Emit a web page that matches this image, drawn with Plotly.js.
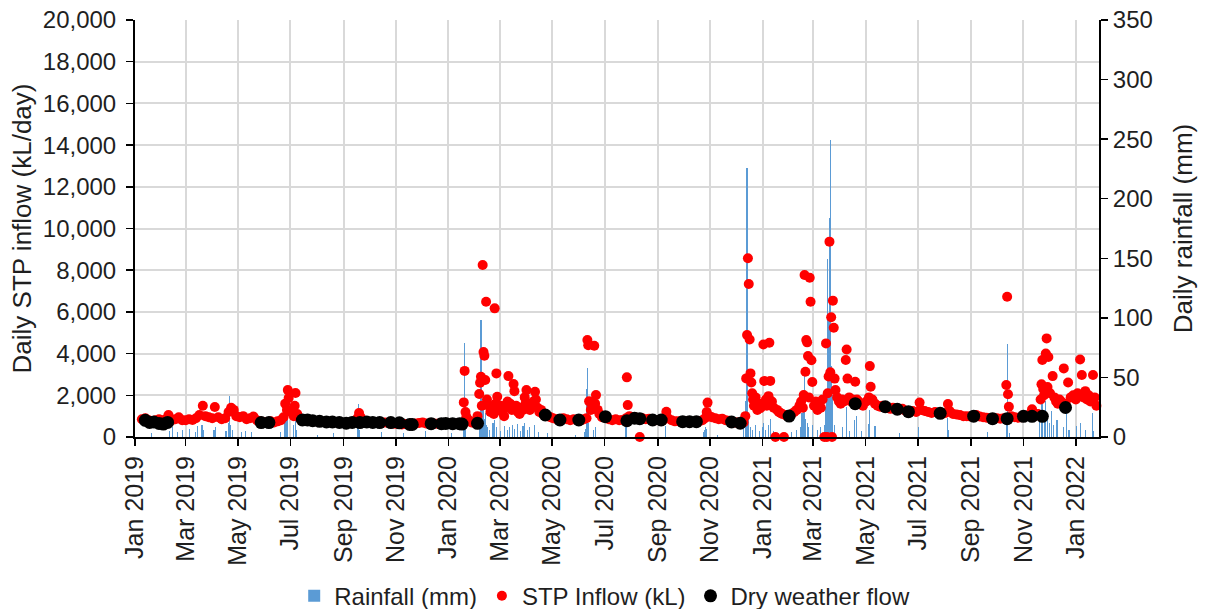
<!DOCTYPE html>
<html>
<head>
<meta charset="utf-8">
<script src="https://cdn.plot.ly/plotly-3.0.1.min.js"></script>
<style>html,body{margin:0;padding:0;background:#fff;}#chart{width:1207px;height:609px;}</style>
</head>
<body>
<div id="chart"></div>
<script>
// Daily STP inflow (kL/day)
const inflowDates = [
'2019-01-09','2019-01-13','2019-01-17','2019-01-21','2019-01-25','2019-01-29',
'2019-02-02','2019-02-06','2019-02-09','2019-02-13','2019-02-17','2019-02-21','2019-02-25',
'2019-03-01','2019-03-05','2019-03-09','2019-03-13','2019-03-17','2019-03-21','2019-03-24','2019-03-28',
'2019-04-01','2019-04-04','2019-04-08','2019-04-12','2019-04-16','2019-04-20','2019-04-23','2019-04-26','2019-04-29',
'2019-05-03','2019-05-07','2019-05-11','2019-05-15','2019-05-19','2019-05-23','2019-05-27','2019-05-31',
'2019-06-04','2019-06-08','2019-06-12','2019-06-16','2019-06-20','2019-06-23','2019-06-25','2019-06-27','2019-06-28','2019-06-29',
'2019-07-01','2019-07-03','2019-07-05','2019-07-06','2019-07-07','2019-07-09','2019-07-12','2019-07-15','2019-07-19','2019-07-23','2019-07-27','2019-07-31',
'2019-08-04','2019-08-08','2019-08-12','2019-08-16','2019-08-20','2019-08-24','2019-08-28',
'2019-09-01','2019-09-05','2019-09-09','2019-09-13','2019-09-17','2019-09-19','2019-09-21','2019-09-25','2019-09-29',
'2019-10-03','2019-10-07','2019-10-11','2019-10-15','2019-10-19','2019-10-23','2019-10-27','2019-10-31',
'2019-11-04','2019-11-08','2019-11-12','2019-11-16','2019-11-20','2019-11-24','2019-11-28',
'2019-12-02','2019-12-06','2019-12-10','2019-12-14','2019-12-18','2019-12-22','2019-12-26','2019-12-30',
'2020-01-03','2020-01-07','2020-01-11','2020-01-15','2020-01-18','2020-01-19','2020-01-20','2020-01-21','2020-01-22','2020-01-25','2020-01-28','2020-01-31',
'2020-02-01','2020-02-04','2020-02-06','2020-02-07','2020-02-08','2020-02-09','2020-02-10','2020-02-11','2020-02-12','2020-02-13','2020-02-14','2020-02-15','2020-02-17','2020-02-19','2020-02-21','2020-02-23','2020-02-24','2020-02-25','2020-02-26','2020-02-27','2020-02-29',
'2020-03-02','2020-03-04','2020-03-06','2020-03-08','2020-03-10','2020-03-11','2020-03-13','2020-03-15','2020-03-17','2020-03-18','2020-03-20','2020-03-22','2020-03-24','2020-03-26','2020-03-28','2020-03-30','2020-03-31',
'2020-04-01','2020-04-03','2020-04-05','2020-04-07','2020-04-09','2020-04-11','2020-04-12','2020-04-14','2020-04-16','2020-04-18','2020-04-20','2020-04-23','2020-04-26','2020-04-29',
'2020-05-02','2020-05-06','2020-05-10','2020-05-14','2020-05-18','2020-05-22','2020-05-26','2020-05-30',
'2020-06-01','2020-06-04','2020-06-07','2020-06-10','2020-06-11','2020-06-12','2020-06-13','2020-06-15','2020-06-17','2020-06-19','2020-06-20','2020-06-21','2020-06-23','2020-06-25','2020-06-28',
'2020-07-02','2020-07-06','2020-07-10','2020-07-14','2020-07-18','2020-07-22','2020-07-26','2020-07-27','2020-07-28','2020-07-30',
'2020-08-02','2020-08-05','2020-08-08','2020-08-11','2020-08-14','2020-08-18','2020-08-22','2020-08-26','2020-08-30',
'2020-09-03','2020-09-07','2020-09-11','2020-09-13','2020-09-17','2020-09-21','2020-09-25','2020-09-29',
'2020-10-03','2020-10-07','2020-10-11','2020-10-15','2020-10-19','2020-10-23','2020-10-26','2020-10-28','2020-10-29','2020-10-31',
'2020-11-03','2020-11-07','2020-11-11','2020-11-15','2020-11-19','2020-11-23','2020-11-27','2020-11-30',
'2020-12-02','2020-12-06','2020-12-10','2020-12-12','2020-12-13','2020-12-14','2020-12-15','2020-12-16','2020-12-17','2020-12-18','2020-12-19','2020-12-20','2020-12-21','2020-12-22','2020-12-24','2020-12-26','2020-12-28','2020-12-30',
'2021-01-01','2021-01-02','2021-01-03','2021-01-05','2021-01-06','2021-01-08','2021-01-09','2021-01-10','2021-01-12','2021-01-14','2021-01-16','2021-01-18','2021-01-20','2021-01-22','2021-01-24','2021-01-26','2021-01-28','2021-01-30',
'2021-02-01','2021-02-04','2021-02-07','2021-02-10','2021-02-13','2021-02-15','2021-02-17','2021-02-18','2021-02-19','2021-02-20','2021-02-21','2021-02-22','2021-02-23','2021-02-24','2021-02-25','2021-02-26','2021-02-27','2021-02-28',
'2021-03-02','2021-03-04','2021-03-06','2021-03-08','2021-03-10','2021-03-12','2021-03-14','2021-03-16','2021-03-17','2021-03-18','2021-03-19','2021-03-20','2021-03-21','2021-03-22','2021-03-23','2021-03-24','2021-03-25','2021-03-26','2021-03-27','2021-03-29','2021-03-31',
'2021-04-02','2021-04-04','2021-04-06','2021-04-08','2021-04-09','2021-04-10','2021-04-12','2021-04-14','2021-04-16','2021-04-19','2021-04-21','2021-04-23','2021-04-25','2021-04-28',
'2021-05-02','2021-05-05','2021-05-06','2021-05-07','2021-05-09','2021-05-12','2021-05-15','2021-05-18','2021-05-21','2021-05-24','2021-05-27','2021-05-30',
'2021-06-02','2021-06-05','2021-06-09','2021-06-13','2021-06-17','2021-06-21','2021-06-25','2021-06-29',
'2021-07-03','2021-07-05','2021-07-09','2021-07-13','2021-07-17','2021-07-21','2021-07-25','2021-07-29',
'2021-08-02','2021-08-05','2021-08-07','2021-08-11','2021-08-15','2021-08-19','2021-08-23','2021-08-27','2021-08-31',
'2021-09-03','2021-09-07','2021-09-11','2021-09-15','2021-09-19','2021-09-23','2021-09-27',
'2021-10-01','2021-10-05','2021-10-09','2021-10-12','2021-10-13','2021-10-14','2021-10-15','2021-10-18','2021-10-22','2021-10-26','2021-10-30',
'2021-11-03','2021-11-07','2021-11-11','2021-11-14','2021-11-18','2021-11-21','2021-11-22','2021-11-23','2021-11-24','2021-11-25','2021-11-27','2021-11-28','2021-11-29','2021-11-30',
'2021-12-02','2021-12-05','2021-12-07','2021-12-09','2021-12-11','2021-12-13','2021-12-15','2021-12-18','2021-12-20','2021-12-23','2021-12-26','2021-12-29',
'2022-01-01','2022-01-03','2022-01-06','2022-01-08','2022-01-10','2022-01-12','2022-01-14','2022-01-16','2022-01-18','2022-01-21','2022-01-23','2022-01-25'
];
const inflowValues = [
850,900,800,750,800,850,
800,850,1050,800,850,950,800,
800,850,820,900,1050,1500,1000,950,
900,1440,950,850,900,1200,1400,1300,1000,
950,1000,850,900,980,800,750,720,
700,750,700,750,800,950,1600,1300,2250,1870,
1200,1250,1000,1500,2110,1100,900,850,820,800,780,760,
750,730,720,720,700,700,680,
670,680,700,720,900,1150,950,750,700,
700,720,680,700,690,680,650,640,
620,600,620,600,580,650,670,
700,650,640,660,640,650,640,650,
650,640,660,640,700,1660,3170,1200,975,800,700,680,
700,1000,2060,2600,2890,1500,8250,4080,3900,2730,6490,1800,1500,1200,1400,1100,6170,1600,3050,1930,1300,
1500,1200,1000,1400,1700,2920,1600,1300,2540,2200,1500,1200,1100,1400,1300,1900,1600,
2250,1500,1300,1500,1700,2170,1800,1400,1200,1300,1100,1050,1000,950,
900,850,820,900,850,800,850,820,
820,800,850,900,4650,4400,1710,1300,1500,4380,1600,2010,1300,1100,950,
950,850,800,850,800,820,900,2860,1530,1000,
900,950,900,0,900,850,880,820,800,
820,800,1215,900,800,750,760,740,
750,740,720,730,750,800,900,1200,1650,1000,
950,900,850,880,800,780,720,700,
700,660,700,1000,2810,4890,8570,7340,4680,3050,2610,2100,1800,1500,1900,1300,1600,1400,
1600,4440,2690,1800,1500,1960,4520,2690,1700,1400,0,1300,1200,1150,1100,0,1050,1000,
1000,1100,1200,1300,1500,1700,1400,2010,7770,3130,4650,4540,3880,1900,7640,6490,3680,2640,
1500,1700,1300,1600,1400,1800,0,4490,0,2100,2900,9370,3100,5740,0,6540,5240,2800,2250,1900,1700,
1600,1800,1700,3690,4200,2800,1900,1700,1800,2650,1800,1700,1600,1500,
1700,1900,3400,2410,1800,1600,1500,1450,1500,1450,1400,1350,
1400,1350,1300,1350,1250,1200,1250,1200,
1650,1300,1250,1200,1150,1200,1150,1100,
1150,1580,1250,1100,1080,1050,1000,1000,980,
1000,1050,980,950,920,900,880,
900,880,900,2490,6730,2050,1450,1000,950,920,950,
1000,1050,1330,1000,1100,1800,2530,3690,2300,2000,4000,4730,2400,3840,
2100,2920,1900,1700,1600,1800,1700,3290,1600,2610,1900,2000,
1800,2100,3720,2970,1900,2200,1800,2000,1700,2970,1900,1500
];

// Dry weather flow (kL/day)
const dryDates = [
'2019-01-13','2019-01-18','2019-01-23','2019-01-29','2019-02-03','2019-02-08',
'2019-05-28','2019-06-06',
'2019-07-15','2019-07-21','2019-07-27','2019-08-04','2019-08-12','2019-08-19','2019-08-27','2019-09-04','2019-09-11','2019-09-20','2019-09-28',
'2019-10-05','2019-10-13','2019-10-26','2019-11-05','2019-11-17','2019-11-20','2019-12-12','2019-12-24','2019-12-29',
'2020-01-06','2020-01-14','2020-01-17','2020-02-04',
'2020-04-23','2020-05-10','2020-06-01','2020-07-02','2020-07-27','2020-08-05','2020-08-11','2020-08-26','2020-09-05','2020-09-30','2020-10-08','2020-10-16','2020-11-26','2020-12-06',
'2021-02-01','2021-04-19','2021-05-24','2021-06-07','2021-06-20','2021-07-27','2021-09-04','2021-09-26','2021-10-13','2021-11-01','2021-11-11','2021-11-23','2021-12-20'
];
const dryValues = [
800,700,720,650,620,700,
690,690,
815,815,780,750,720,720,700,660,700,690,720,
700,690,690,680,600,600,640,640,650,
640,640,620,655,
1055,815,815,975,780,900,880,815,815,735,735,735,720,660,
1005,1600,1450,1330,1215,1135,1000,880,880,990,990,990,1415
];

// Daily rainfall (mm)
const rainDates = [
'2019-01-20','2019-02-10','2019-02-14','2019-02-20','2019-02-25','2019-03-05','2019-03-12','2019-03-15','2019-03-20','2019-03-22',
'2019-04-03','2019-04-05','2019-04-17','2019-04-20','2019-04-21','2019-04-22','2019-04-25','2019-05-05','2019-05-10','2019-05-17',
'2019-06-20','2019-06-24','2019-06-25','2019-06-27','2019-06-28','2019-07-05','2019-07-07','2019-07-08','2019-08-02','2019-08-20',
'2019-09-17','2019-09-18','2019-09-19','2019-10-15','2019-11-10','2019-12-05',
'2020-01-05','2020-01-19','2020-01-20','2020-01-21','2020-02-06','2020-02-07','2020-02-08','2020-02-09','2020-02-10','2020-02-11',
'2020-02-12','2020-02-13','2020-02-14','2020-02-16','2020-02-18','2020-02-22','2020-02-24','2020-02-26','2020-03-02','2020-03-06',
'2020-03-10','2020-03-12','2020-03-16','2020-03-18','2020-03-22','2020-03-25','2020-03-28','2020-03-30','2020-04-02','2020-04-05',
'2020-04-10','2020-04-15','2020-04-26','2020-05-28','2020-06-08','2020-06-09','2020-06-10','2020-06-11','2020-06-12','2020-06-18',
'2020-06-20','2020-07-26','2020-07-27','2020-08-08','2020-09-10','2020-10-24','2020-10-26','2020-10-27','2020-10-28','2020-11-10',
'2020-12-10','2020-12-12','2020-12-13','2020-12-14','2020-12-15','2020-12-16','2020-12-18','2020-12-20','2020-12-24','2020-12-28',
'2021-01-01','2021-01-02','2021-01-05','2021-01-08','2021-01-10','2021-01-14','2021-01-20','2021-02-04','2021-02-10','2021-02-14',
'2021-02-16','2021-02-18','2021-02-19','2021-02-20','2021-02-22','2021-02-24','2021-02-28','2021-03-06','2021-03-10','2021-03-14',
'2021-03-16','2021-03-17','2021-03-18','2021-03-19','2021-03-20','2021-03-21','2021-03-22','2021-03-23','2021-03-24','2021-03-26',
'2021-04-04','2021-04-09','2021-04-12','2021-04-18','2021-04-20','2021-04-26','2021-05-05','2021-05-06','2021-05-12','2021-06-10',
'2021-07-02','2021-08-04','2021-08-06','2021-09-20','2021-10-12','2021-10-13','2021-10-16','2021-11-20','2021-11-22','2021-11-23',
'2021-11-25','2021-11-27','2021-11-29','2021-12-01','2021-12-04','2021-12-06','2021-12-10','2021-12-18','2021-12-21','2021-12-24',
'2022-01-02','2022-01-06','2022-01-12','2022-01-20','2022-01-22'
];
const rainValues = [
3,5,8,4,6,7,4,9,10,6,
6,8,5,12,34,10,6,4,5,4,
4,12,20,15,8,10,18,6,2,3,
8,28,6,4,3,5,
3,15,79,10,20,35,98,84,30,25,
15,20,10,8,6,12,14,8,5,9,
6,8,10,7,11,5,9,12,6,8,
10,4,3,2,4,7,40,58,12,6,
8,8,9,3,9,4,6,8,7,2,
8,30,25,226,20,14,8,6,10,5,
8,12,6,10,15,5,3,4,6,8,
20,35,55,15,12,8,10,6,8,10,
25,40,149,100,184,249,60,35,20,10,
8,25,5,14,18,5,11,23,9,3,
8,16,6,4,10,78,3,15,33,28,
20,30,18,12,22,10,14,8,21,6,
9,12,6,20,5
];

const fontFam = 'Liberation Sans, Arial, sans-serif';
const txt = '#1f1f1f';

const traces = [
  {type:'bar', name:'Rainfall (mm)', x:rainDates, y:rainValues, yaxis:'y',
   width:86400000*1.3, marker:{color:'#5B9BD5', line:{width:0}}},
  {type:'scatter', mode:'markers', name:'STP Inflow (kL)', x:inflowDates, y:inflowValues, yaxis:'y2',
   marker:{color:'#FF0000', size:10}, cliponaxis:false},
  {type:'scatter', mode:'markers', name:'Dry weather flow', x:dryDates, y:dryValues, yaxis:'y2',
   marker:{color:'#000000', size:13}, cliponaxis:false}
];

const layout = {
  width:1207, height:609,
  margin:{l:135, r:108, t:20, b:172, pad:0},
  paper_bgcolor:'#ffffff', plot_bgcolor:'#ffffff',
  font:{family:fontFam, size:24, color:txt},
  showlegend:true,
  bargap:0,
  legend:{orientation:'h', xref:'container', yref:'container', x:0.501, xanchor:'center', y:0.021, yanchor:'middle',
          font:{family:fontFam, size:24, color:txt}, bgcolor:'rgba(0,0,0,0)'},
  xaxis:{type:'date', range:['2019-01-01','2022-01-28'], tickformat:'%b %Y', dtick:'M2', tick0:'2019-01-01',
         tickangle:-90, ticks:'outside', ticklen:7, tickwidth:1.5, tickcolor:'#000',
         showline:true, linecolor:'#000', linewidth:2, showgrid:true, gridcolor:'#d9d9d9', gridwidth:2,
         zeroline:false, automargin:false, tickfont:{family:fontFam, size:25, color:txt}},
  yaxis:{side:'right', range:[0,350], dtick:50, showgrid:false, zeroline:false, automargin:false,
         ticks:'outside', ticklen:7, tickwidth:1.5, tickcolor:'#000', showline:true, linecolor:'#000', linewidth:2,
         tickfont:{family:fontFam, size:24, color:txt},
         title:{text:'Daily rainfall (mm)', font:{family:fontFam, size:26, color:txt}, standoff:22}},
  yaxis2:{overlaying:'y', side:'left', range:[0,20000], dtick:2000, tickformat:',', showgrid:true,
          gridcolor:'#d9d9d9', gridwidth:2, zeroline:false, automargin:false, ticklabelstandoff:5,
          ticks:'outside', ticklen:7, tickwidth:1.5, tickcolor:'#000', showline:true, linecolor:'#000', linewidth:2,
          tickfont:{family:fontFam, size:24, color:txt},
          title:{text:'Daily STP inflow (kL/day)', font:{family:fontFam, size:26, color:txt}, standoff:4}}
};

Plotly.newPlot('chart', traces, layout, {staticPlot:true, displayModeBar:false});
</script>
</body>
</html>
